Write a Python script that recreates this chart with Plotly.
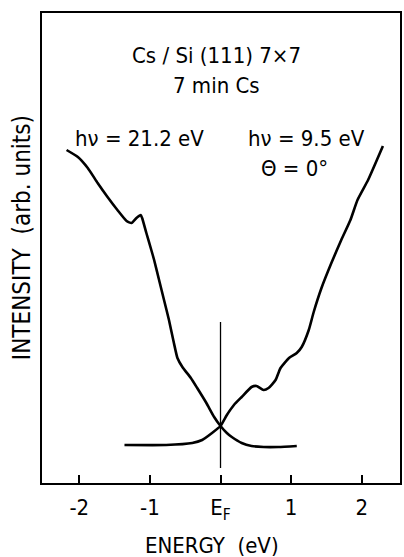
import plotly.graph_objects as go

# hv = 21.2 eV spectrum (occupied side)
e_212 = [-2.18, -2.02, -1.88, -1.74, -1.60, -1.46, -1.33, -1.26, -1.19, -1.13, -1.11,
         -1.05, -0.98, -0.94, -0.87, -0.80, -0.73, -0.66, -0.61, -0.54, -0.42, -0.33,
         -0.20, -0.09, 0.0, 0.09, 0.16, 0.30, 0.44, 0.61, 0.82, 1.08]
i_212 = [333, 326, 315, 300, 286, 273, 262, 260, 265, 268, 265,
         250, 233, 223, 203, 183, 163, 140, 125, 116, 105, 95,
         80, 66, 57, 50, 46, 40, 37, 36, 36, 37]

# hv = 9.5 eV spectrum (inverse / unoccupied side)
e_95 = [-1.36, -0.77, -0.40, -0.26, -0.12, 0.0, 0.09, 0.19, 0.30, 0.44, 0.51, 0.61,
        0.68, 0.78, 0.85, 0.97, 1.08, 1.15, 1.25, 1.32, 1.43, 1.57, 1.71, 1.84,
        1.94, 2.09, 2.30]
i_95 = [38, 38, 40, 43, 50, 57, 68, 78, 86, 96, 97, 93,
        95, 103, 115, 125, 130, 136, 153, 171, 195, 220, 243, 263,
        283, 303, 337]

# Fermi level marker
ef_x = [0, 0]
ef_y = [15, 161]

tick_vals = [-2, -1, 0, 1, 2]
tick_text = ["-2", "-1", "E<sub>F</sub>", "1", "2"]

FONT = "DejaVu Sans Condensed, Roboto, Liberation Sans, sans-serif"

fig = go.Figure()
fig.add_trace(go.Scatter(x=e_212, y=i_212, mode="lines",
                         line=dict(color="black", width=2.6, shape="spline", smoothing=0.5),
                         hoverinfo="skip", showlegend=False))
fig.add_trace(go.Scatter(x=e_95, y=i_95, mode="lines",
                         line=dict(color="black", width=2.6, shape="spline", smoothing=0.5),
                         hoverinfo="skip", showlegend=False))
fig.add_trace(go.Scatter(x=ef_x, y=ef_y, mode="lines",
                         line=dict(color="black", width=1.3),
                         hoverinfo="skip", showlegend=False))

annots = [
    ("Cs / Si (111) 7×7", -0.06, 428),
    ("7 min Cs", -0.05, 398),
    ("hν = 21.2 eV", -1.15, 345),
    ("hν = 9.5 eV", 1.22, 345),
    ("Θ = 0°", 1.05, 315),
]
for txt, x, y in annots:
    fig.add_annotation(x=x, y=y, xref="x", yref="y", text=txt, showarrow=False,
                       xanchor="center", yanchor="middle",
                       font=dict(family=FONT, size=22, color="black"))

fig.add_annotation(x=-0.056, y=0.523, xref="paper", yref="paper",
                   text="INTENSITY  (arb. units)", textangle=-90, showarrow=False,
                   xanchor="center", yanchor="middle",
                   font=dict(family=FONT, size=24, color="black"))
fig.add_annotation(x=0.475, y=-0.132, xref="paper", yref="paper",
                   text="ENERGY  (eV)", showarrow=False,
                   xanchor="center", yanchor="middle",
                   font=dict(family=FONT, size=22, color="black"))

fig.update_xaxes(range=[-2.528, 2.542], tickvals=tick_vals, ticktext=tick_text,
                 ticks="inside", ticklen=8, tickwidth=1.5, tickcolor="black",
                 ticklabelstandoff=4,
                 showline=True, linecolor="black", linewidth=2, mirror=True,
                 showgrid=False, zeroline=False,
                 tickfont=dict(family=FONT, size=22, color="black"))
fig.update_yaxes(range=[0, 470], showticklabels=False, ticks="",
                 showline=True, linecolor="black", linewidth=2, mirror=True,
                 showgrid=False, zeroline=False)

fig.update_layout(width=404, height=557, margin=dict(l=42, r=2, t=13, b=74),
                  paper_bgcolor="white", plot_bgcolor="white")

fig.write_html("out.html")
